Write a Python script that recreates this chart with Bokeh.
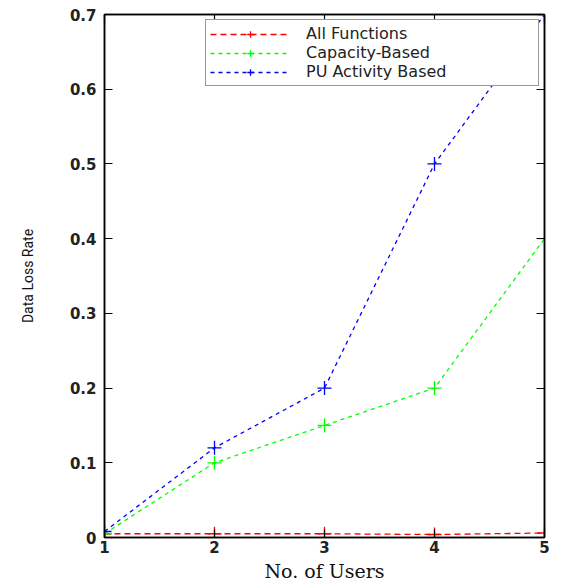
from bokeh.plotting import figure
from bokeh.models import LinearAxis, Range1d, FixedTicker, Legend, LegendItem
from bokeh.embed import file_html
from bokeh.resources import INLINE

users = [1, 2, 3, 4, 5]
all_functions = [0.005, 0.005, 0.005, 0.004, 0.006]
capacity_based = [0.005, 0.10, 0.15, 0.20, 0.40]
pu_activity = [0.008, 0.12, 0.20, 0.50, 0.70]
x_ticks = [1, 2, 3, 4, 5]
y_ticks = [0, 0.1, 0.2, 0.3, 0.4, 0.5, 0.6, 0.7]
y_tick_labels = {0: "0", 0.1: "0.1", 0.2: "0.2", 0.3: "0.3", 0.4: "0.4", 0.5: "0.5", 0.6: "0.6", 0.7: "0.7"}

p = figure(width=562, height=584, output_backend="svg", toolbar_location=None,
           x_range=Range1d(1, 5), y_range=Range1d(0, 0.7),
           min_border_left=104, min_border_right=18, min_border_top=14, min_border_bottom=46)
p.xgrid.visible = False
p.ygrid.visible = False
p.outline_line_color = "black"
p.outline_line_width = 1.5
p.background_fill_color = "white"
p.border_fill_color = "white"

def style_axis(ax):
    ax.major_tick_in = 8
    ax.major_tick_out = 0
    ax.minor_tick_in = 0
    ax.minor_tick_out = 0
    ax.axis_line_color = "black"
    ax.axis_line_width = 1.5
    ax.major_tick_line_color = "black"
    ax.major_tick_line_width = 1.2
    ax.major_label_text_font = "DejaVu Sans"
    ax.major_label_text_font_size = "15px"
    ax.major_label_text_font_style = "bold"
    ax.major_label_text_color = "#222222"

xa = p.xaxis[0]
xa.ticker = FixedTicker(ticks=x_ticks)
style_axis(xa)
xa.major_label_standoff = 3
xa.axis_label = "No. of Users"
xa.axis_label_text_font = "DejaVu Serif"
xa.axis_label_text_font_size = "19px"
xa.axis_label_text_font_style = "normal"
xa.axis_label_text_color = "#111111"
xa.axis_label_standoff = 4

ya = p.yaxis[0]
ya.ticker = FixedTicker(ticks=y_ticks)
ya.major_label_overrides = y_tick_labels
style_axis(ya)
ya.major_label_standoff = 8
ya.axis_label = "Data Loss Rate"
ya.axis_label_text_font = "Roboto"
ya.axis_label_text_font_size = "14px"
ya.axis_label_text_font_style = "normal"
ya.axis_label_text_color = "#111111"
ya.axis_label_standoff = 31

top = LinearAxis(ticker=FixedTicker(ticks=x_ticks))
style_axis(top)
top.major_label_overrides = {t: "" for t in x_ticks}
top.major_label_standoff = 0
p.add_layout(top, "above")
right = LinearAxis(ticker=FixedTicker(ticks=y_ticks))
style_axis(right)
right.major_label_overrides = {t: "" for t in y_ticks}
right.major_label_standoff = 0
p.add_layout(right, "right")

series = [("All Functions", all_functions, "#ff0000", "6 4"),
          ("Capacity-Based", capacity_based, "#00ff00", "4 4"),
          ("PU Activity Based", pu_activity, "#0000ff", "4 4")]
items = []
for name, ys, col, dash in series:
    l = p.line(users, ys, line_color=col, line_width=1.3, line_dash=dash)
    m = p.scatter(users, ys, marker="cross", size=14, line_color=col, line_width=1.3)
    items.append(LegendItem(label=name, renderers=[l, m]))

legend = Legend(items=items, location="top_right")
legend.border_line_color = "#333333"
legend.border_line_width = 1.2
legend.label_text_font = "DejaVu Sans"
legend.label_text_font_size = "16px"
legend.label_text_color = "#222222"
legend.glyph_width = 80
legend.glyph_height = 16
legend.label_height = 16
legend.label_width = 228
legend.spacing = 0
legend.padding = 4
legend.margin = 5
legend.label_standoff = 16
legend.background_fill_alpha = 1
p.add_layout(legend, "center")

open("out.html", "w").write(file_html(p, INLINE))
